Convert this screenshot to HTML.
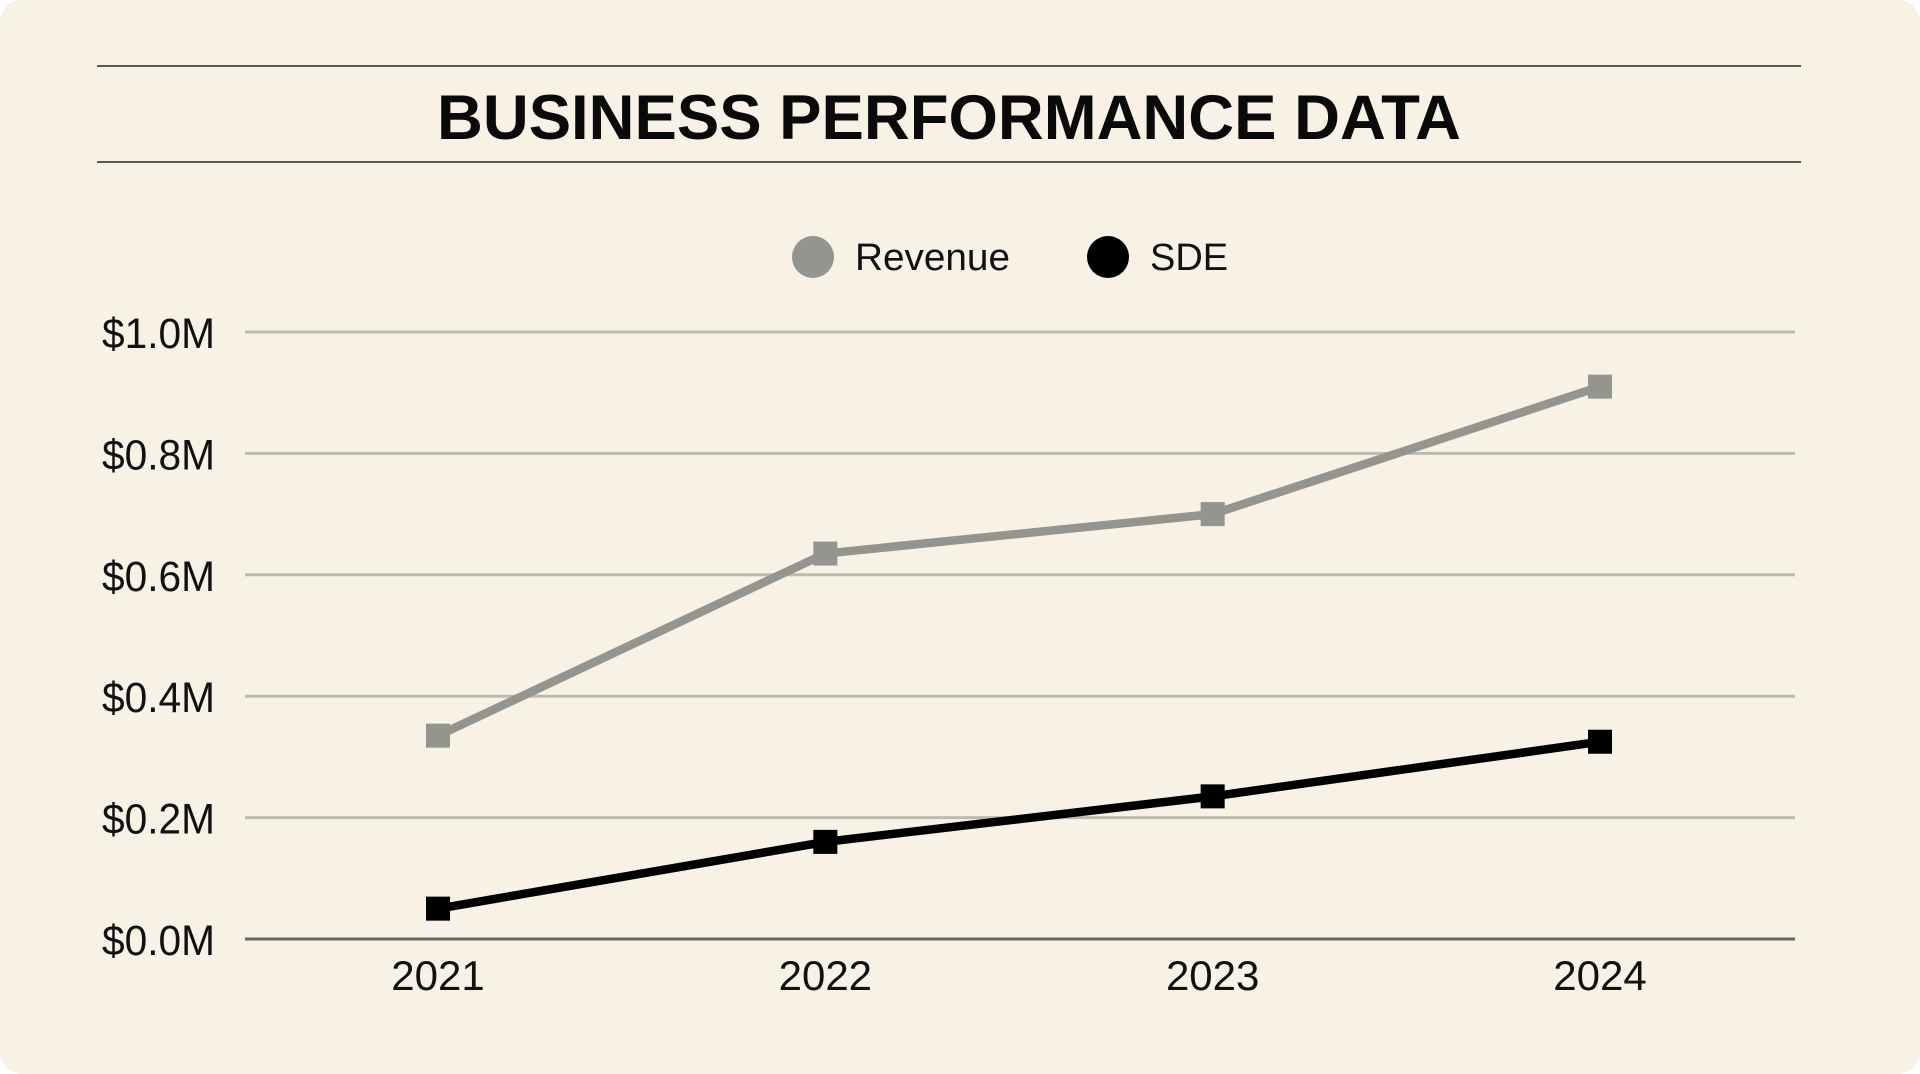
<!DOCTYPE html>
<html><head><meta charset="utf-8"><style>
html,body{margin:0;padding:0;background:#fff;}
#card{position:absolute;left:0;top:0;width:1920px;height:1074px;background:#f7f1e6;border-radius:22px;overflow:hidden;font-family:"Liberation Sans",sans-serif;}
svg{position:absolute;left:0;top:0;}
</style></head><body>
<div id="card">
<svg id="chart" width="1920" height="1074">
<line x1="97" y1="66" x2="1801" y2="66" stroke="#222" stroke-width="1.5"/>
<line x1="97" y1="162" x2="1801" y2="162" stroke="#222" stroke-width="1.5"/>
<text x="949" y="139" text-anchor="middle" font-size="63" font-weight="bold" fill="#0a0a0a" textLength="1024" lengthAdjust="spacingAndGlyphs">BUSINESS PERFORMANCE DATA</text>
<g>
<circle cx="813" cy="257" r="21" fill="#959590"/>
<text x="855" y="270" font-size="38" fill="#111" textLength="155" lengthAdjust="spacingAndGlyphs">Revenue</text>
<circle cx="1108" cy="257" r="21" fill="#000"/>
<text x="1150" y="270" font-size="38" fill="#111">SDE</text>
</g>
<g id="grid"></g><g id="series"></g>
</svg>
</div>
<script>
const categories=["2021","2022","2023","2024"];
const revenue=[0.335,0.635,0.70,0.91];
const sde=[0.05,0.16,0.235,0.325];
const yTicks=[0,0.2,0.4,0.6,0.8,1.0];
const yTickLabels=["$0.0M","$0.2M","$0.4M","$0.6M","$0.8M","$1.0M"];
const NS="http://www.w3.org/2000/svg";
const x0=245,x1=1795,y0=939,y1=332;
function xs(i){return 438+i*(1600-438)/(categories.length-1);}
function ys(v){return y0-(v/1.0)*(y0-y1);}
const grid=document.getElementById('grid'),ser=document.getElementById('series');
function mk(t,a,p){const e=document.createElementNS(NS,t);for(const k in a)e.setAttribute(k,a[k]);p.appendChild(e);return e;}
yTicks.forEach((v,i)=>{
 const l=mk('line',{x1:x0,x2:x1,y1:ys(v),y2:ys(v),stroke:i===0?'#666':'#bdbab0','stroke-width':3},grid);
 
 
 const t=mk('text',{x:215,y:ys(v)+16,'text-anchor':'end','font-size':43,fill:'#111',textLength:113,lengthAdjust:'spacingAndGlyphs'},grid);
 t.textContent=yTickLabels[i];
 
 
});
categories.forEach((c,i)=>{
 const t=mk('text',{x:xs(i),y:990,'text-anchor':'middle','font-size':42,fill:'#111'},grid);
 t.textContent=c;
 
 
});
function draw(vals,color,name){
 const pts=vals.map((v,i)=>xs(i)+','+ys(v)).join(' ');
 const pl=mk('polyline',{points:pts,fill:'none',stroke:color,'stroke-width':8.5,'stroke-linejoin':'round'},ser);
 
 
 vals.forEach((v,i)=>{
  const r=mk('rect',{x:xs(i)-12,y:ys(v)-12,width:24,height:24,fill:color},ser);
  
  
 });
}
draw(revenue,'#959590','revenue');
draw(sde,'#000','sde');
</script>
</body></html>
